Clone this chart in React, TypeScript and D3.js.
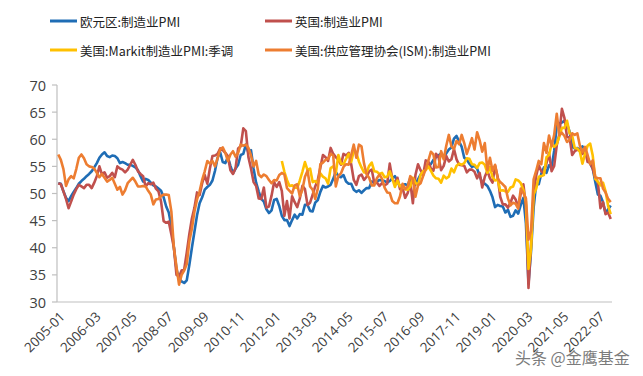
import React from 'react';
import * as d3 from 'd3';

// ---- categories ----
const startMonth = new Date(2005, 0, 1);
const endMonth = new Date(2022, 11, 1);
const months: string[] = d3.timeMonth
  .range(startMonth, d3.timeMonth.offset(endMonth, 1))
  .map((d) => d3.timeFormat('%Y-%m')(d));

const xTickLabels = [
  '2005-01', '2006-03', '2007-05', '2008-07', '2009-09', '2010-11', '2012-01', '2013-03',
  '2014-05', '2015-07', '2016-09', '2017-11', '2019-01', '2020-03', '2021-05', '2022-07',
];
const yTicks = [30, 35, 40, 45, 50, 55, 60, 65, 70];

// ---- series ----
const euroPMI: number[] = [
  51.9, 51.8, 50.4, 49.2, 48.6, 49.5, 50.3, 51.0, 51.8, 52.3, 52.7, 53.2,
  53.6, 54.1, 54.8, 55.6, 56.6, 57.2, 57.6, 56.9, 56.7, 57.0, 56.9, 56.5,
  55.6, 55.8, 55.6, 55.3, 55.3, 55.1, 54.8, 54.3, 53.2, 52.2, 52.7, 52.5,
  52.0, 51.5, 51.3, 50.9, 50.5, 49.3, 47.6, 46.5, 44.0, 40.0, 36.0, 34.3,
  33.8, 33.5, 34.0, 36.8, 40.0, 43.0, 46.0, 48.2, 49.3, 50.7, 51.2, 51.6,
  52.4, 54.2, 56.6, 57.6, 55.8, 55.6, 56.7, 55.1, 53.7, 54.6, 55.3, 57.1,
  57.3, 59.0, 57.5, 58.0, 54.6, 52.0, 50.4, 49.0, 48.5, 47.1, 46.4, 46.9,
  48.8, 49.0, 47.7, 45.9, 45.1, 45.1, 44.0, 45.1, 46.1, 45.4, 46.2, 46.1,
  47.9, 47.9, 46.8, 46.7, 48.3, 48.8, 50.3, 51.4, 51.1, 51.3, 51.6, 52.7,
  54.0, 53.2, 53.0, 53.4, 52.2, 51.8, 51.8, 50.7, 50.3, 50.6, 50.1, 50.6,
  51.0, 51.0, 52.2, 52.0, 52.2, 52.5, 52.4, 52.3, 52.0, 52.3, 52.8, 53.2,
  52.3, 51.2, 51.6, 51.7, 51.5, 52.8, 52.0, 51.7, 52.6, 53.5, 53.7, 54.9,
  55.2, 55.4, 56.2, 56.7, 57.0, 57.4, 56.6, 57.4, 58.1, 58.5, 60.1, 60.6,
  59.6, 58.6, 56.6, 56.2, 55.5, 54.9, 55.1, 54.6, 53.2, 52.0, 51.8, 51.4,
  50.5, 49.3, 47.5, 47.9, 47.7, 47.6, 46.5, 47.0, 45.7, 45.9, 46.9, 46.3,
  47.9, 49.2, 44.5, 33.4, 39.4, 47.4, 51.8, 51.7, 53.7, 54.8, 53.8, 55.2,
  54.8, 57.9, 62.5, 62.9, 63.1, 63.4, 62.8, 61.4, 58.6, 58.3, 58.4, 58.0,
  58.7, 58.2, 56.5, 55.5, 54.6, 52.1, 49.8, 49.6, 48.4, 46.4, 47.1, 47.8,
];

const ukPMI: number[] = [
  51.9, 51.7, 50.4, 49.0, 47.3, 48.5, 49.8, 50.8, 51.6, 51.3, 51.0, 51.6,
  51.6, 51.0, 52.0, 53.2, 55.0, 53.5, 53.9, 52.9, 53.2, 53.8, 53.0, 55.0,
  54.6, 54.4, 53.9, 54.4, 55.3, 56.2, 55.3, 54.1, 53.6, 53.2, 51.3, 51.9,
  51.7, 52.0, 50.9, 50.4, 48.5, 44.9, 44.6, 44.8, 42.5, 40.0, 35.0, 34.7,
  35.8, 36.0, 39.1, 42.5, 45.4, 47.4, 50.2, 49.7, 51.9, 53.4, 51.8, 54.6,
  56.9, 57.0, 57.3, 58.3, 58.0, 57.5, 56.9, 54.3, 53.6, 54.7, 58.3, 58.7,
  62.0, 61.5, 56.7, 54.6, 52.1, 51.4, 49.1, 49.0, 51.1, 47.4, 47.6, 49.6,
  52.1, 51.2, 52.1, 50.5, 45.9, 48.6, 45.4, 49.5, 48.4, 47.5, 49.1, 51.4,
  50.8, 47.9, 48.3, 49.8, 51.3, 52.5, 54.8, 57.1, 56.7, 56.0, 58.4, 57.3,
  56.7, 56.2, 55.3, 57.3, 57.0, 57.5, 55.4, 52.5, 51.6, 53.2, 53.5, 52.5,
  53.1, 54.1, 54.4, 51.9, 52.0, 51.4, 51.9, 51.5, 51.8, 55.5, 52.7, 51.9,
  52.9, 50.8, 51.0, 49.2, 50.1, 52.1, 48.2, 53.4, 55.4, 54.3, 53.4, 56.1,
  55.9, 54.6, 54.2, 57.3, 56.7, 54.3, 55.1, 56.9, 55.9, 56.3, 58.2, 56.3,
  55.3, 55.2, 55.1, 53.9, 54.4, 54.4, 54.0, 52.8, 53.8, 51.1, 53.1, 54.2,
  52.8, 52.0, 55.1, 53.1, 49.4, 48.0, 48.0, 47.4, 48.3, 49.6, 48.9, 47.5,
  50.0, 51.7, 47.8, 32.6, 40.7, 50.1, 53.3, 55.2, 54.1, 53.7, 55.6, 57.5,
  54.1, 55.1, 58.9, 60.9, 65.6, 63.9, 60.4, 60.3, 57.1, 57.8, 58.1, 57.9,
  57.3, 58.0, 55.8, 55.8, 54.6, 52.8, 52.1, 47.3, 48.4, 46.2, 46.5, 45.3,
];

const usMarkitPMI: (number | null)[] = [
  null, null, null, null, null, null, null, null, null, null, null, null,
  null, null, null, null, null, null, null, null, null, null, null, null,
  null, null, null, null, null, null, null, null, null, null, null, null,
  null, null, null, null, null, null, null, null, null, null, null, null,
  null, null, null, null, null, null, null, null, null, null, null, null,
  null, null, null, null, null, null, null, null, null, null, null, null,
  null, null, null, null, null, null, null, null, null, null, null, null,
  null, null, null, 56.0, 54.0, 52.5, 51.4, 51.5, 51.1, 51.0, 52.4, 54.0,
  55.8, 54.3, 54.6, 52.1, 52.3, 51.9, 53.7, 53.1, 52.8, 51.8, 54.7, 55.0,
  53.7, 57.1, 55.5, 55.4, 56.4, 57.3, 55.8, 57.9, 57.5, 55.9, 54.8, 53.9,
  53.9, 55.1, 55.7, 54.1, 54.0, 53.6, 53.8, 53.0, 53.1, 54.1, 52.8, 51.2,
  52.4, 51.3, 51.5, 50.8, 50.7, 51.3, 52.9, 52.0, 51.5, 53.4, 54.1, 54.3,
  55.0, 54.2, 53.3, 52.8, 52.7, 52.0, 53.3, 52.8, 53.1, 54.6, 53.9, 55.1,
  55.5, 55.3, 55.6, 56.5, 56.4, 55.4, 55.3, 54.7, 55.6, 55.7, 55.3, 53.8,
  54.9, 53.0, 52.4, 52.6, 50.5, 50.6, 50.4, 50.3, 51.1, 51.3, 52.6, 52.4,
  51.9, 50.7, 48.5, 36.1, 39.8, 49.8, 50.9, 53.1, 53.2, 53.4, 56.7, 57.1,
  59.2, 58.6, 59.1, 60.5, 62.1, 62.1, 63.4, 61.1, 60.7, 58.4, 58.3, 57.7,
  55.5, 57.3, 58.8, 59.2, 57.0, 52.7, 52.2, 51.5, 52.0, 50.4, 47.7, 46.2,
];

const usISMPMI: number[] = [
  57.2, 56.2, 54.5, 51.4, 52.6, 53.2, 52.8, 54.5, 56.6, 57.2, 56.5, 55.4,
  55.0, 54.9, 54.6, 53.8, 53.0, 53.6, 52.9, 52.2, 52.5, 52.9, 51.8, 50.7,
  51.2, 49.8, 50.6, 51.9, 52.4, 52.9, 52.2, 51.3, 51.3, 51.4, 51.3, 50.5,
  49.8, 48.0, 48.9, 49.0, 49.5, 49.8, 49.8, 49.7, 46.7, 40.0, 36.5, 33.2,
  35.0, 35.8, 37.0, 41.2, 43.5, 46.7, 48.9, 50.4, 52.5, 54.1, 56.0, 55.5,
  56.0, 55.0, 56.5, 58.1, 58.5, 57.5, 56.0, 57.2, 57.8, 56.8, 57.5, 59.0,
  58.8, 59.0, 58.4, 57.0, 55.0, 56.0, 53.5, 53.0, 53.5, 53.2, 52.5, 51.9,
  52.5, 52.4, 53.4, 53.8, 53.5, 51.0, 50.5, 50.0, 51.5, 51.7, 49.5, 50.7,
  53.1, 54.2, 51.3, 50.7, 49.0, 50.9, 55.4, 55.7, 56.2, 56.4, 57.3, 57.0,
  51.3, 53.2, 53.7, 54.9, 55.4, 55.3, 57.1, 59.0, 56.6, 59.0, 58.7, 55.5,
  53.5, 52.9, 51.5, 51.5, 52.8, 53.5, 52.7, 51.1, 50.2, 50.1, 48.6, 48.2,
  48.2, 49.5, 51.8, 50.8, 51.3, 53.2, 52.6, 49.4, 51.5, 51.9, 53.2, 54.5,
  56.0, 57.7, 57.2, 54.8, 54.9, 57.8, 56.3, 58.8, 60.8, 58.7, 58.2, 59.7,
  59.1, 60.8, 59.3, 57.3, 58.7, 60.2, 58.1, 61.3, 59.8, 57.7, 59.3, 54.3,
  56.6, 54.2, 55.3, 52.8, 52.1, 51.7, 51.2, 49.1, 47.8, 48.3, 48.1, 47.2,
  50.9, 50.1, 49.1, 41.5, 43.1, 52.6, 54.2, 56.0, 55.4, 59.3, 57.5, 60.7,
  58.7, 60.8, 64.7, 60.7, 61.2, 60.6, 59.5, 59.9, 61.1, 60.8, 61.1, 58.8,
  57.6, 58.6, 57.1, 55.4, 56.1, 53.0, 52.8, 52.8, 50.9, 50.2, 49.0, 48.4,
];

const seriesNames = [
  '欧元区:制造业PMI',
  '英国:制造业PMI',
  '美国:Markit制造业PMI:季调',
  '美国:供应管理协会(ISM):制造业PMI',
];
const seriesColors = ['#1f6db5', '#c0504d', '#ffc000', '#ed7d31'];
const seriesData: (number | null)[][] = [euroPMI, ukPMI, usMarkitPMI, usISMPMI];

const W = 643;
const H = 376;
const margin = { left: 57, right: 31, top: 85, bottom: 74 };

export default function App() {
  const x = d3
    .scalePoint<string>()
    .domain(months)
    .range([margin.left, W - margin.right])
    .padding(0.5);
  const y = d3.scaleLinear().domain([30, 70]).range([H - margin.bottom, margin.top]);

  const line = d3
    .line<number | null>()
    .defined((d) => d !== null)
    .x((_, i) => x(months[i]) as number)
    .y((d) => y(d as number));

  const legendPos = [
    { x: 50, y: 21 },
    { x: 265, y: 21 },
    { x: 50, y: 50 },
    { x: 265, y: 50 },
  ];

  const axisColor = '#bfbfbf';
  const textColor = '#404040';

  return (
    <svg
      width={W}
      height={H}
      style={{ position: 'absolute', left: 0, top: 0, background: '#fff' }}
      fontFamily="'Noto Sans CJK SC', 'Open Sans', sans-serif"
    >
      {/* legend */}
      {seriesNames.map((name, i) => (
        <g key={name}>
          <line
            x1={legendPos[i].x}
            x2={legendPos[i].x + 27}
            y1={legendPos[i].y}
            y2={legendPos[i].y}
            stroke={seriesColors[i]}
            strokeWidth={3}
          />
          <text
            x={legendPos[i].x + 30}
            y={legendPos[i].y}
            dominantBaseline="central"
            fontSize={12.5}
            fill="#222"
          >
            {name}
          </text>
        </g>
      ))}

      {/* y axis */}
      <line x1={margin.left} x2={margin.left} y1={y(70)} y2={y(30)} stroke={axisColor} strokeWidth={1.2} />
      {yTicks.map((t) => (
        <g key={t}>
          <line x1={margin.left - 5} x2={margin.left} y1={y(t)} y2={y(t)} stroke={axisColor} strokeWidth={1.2} />
          <text
            x={margin.left - 11}
            y={y(t)}
            textAnchor="end"
            dominantBaseline="central"
            fontSize={14.5}
            fontFamily="'Open Sans', sans-serif"
            fill={textColor}
          >
            {t}
          </text>
        </g>
      ))}

      {/* x axis */}
      <line x1={margin.left} x2={W - margin.right} y1={y(30)} y2={y(30)} stroke={axisColor} strokeWidth={1.2} />
      {xTickLabels.map((lab) => {
        const px = x(lab) as number;
        const py = y(30) + 12;
        return (
          <text
            key={lab}
            transform={`translate(${px + 4},${py}) rotate(-45)`}
            textAnchor="end"
            dominantBaseline="central"
            fontSize={13.5}
            fontFamily="'Open Sans', sans-serif"
            fill={textColor}
          >
            {lab}
          </text>
        );
      })}

      {/* series */}
      {seriesData.map((data, i) => (
        <path
          key={seriesNames[i]}
          d={line(data) || ''}
          fill="none"
          stroke={seriesColors[i]}
          strokeWidth={2.6}
          strokeLinejoin="round"
        />
      ))}

      {/* watermark */}
      <text x={515} y={357} dominantBaseline="central" fontSize={16} fill="#444" opacity={0.7}>
        头条 @金鹰基金
      </text>
    </svg>
  );
}
